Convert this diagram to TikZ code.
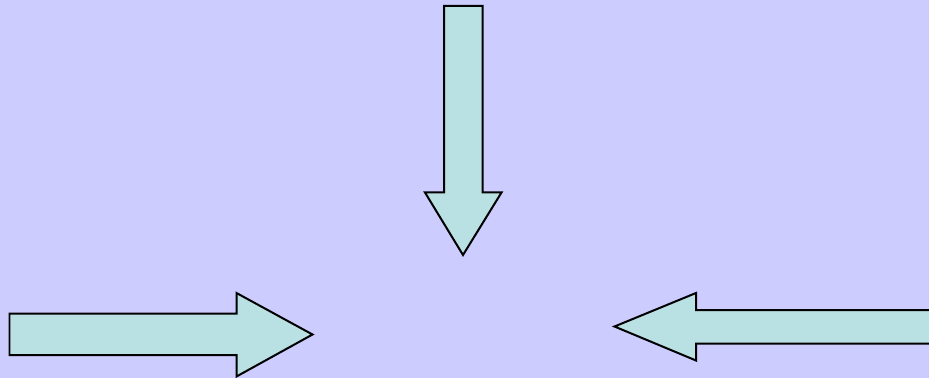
\documentclass[tikz,border=0pt]{standalone}
\usepackage{tikz}

\definecolor{bgviolet}{RGB}{204,204,255}
\definecolor{arrowcyan}{RGB}{185,224,227}

\begin{document}
\begin{tikzpicture}[
      x=0.02cm, y=-0.02cm,
      blockarrow/.style={draw=black, fill=arrowcyan, line width=0.04cm, line join=miter}
    ]
    \fill[bgviolet] (0,0) rectangle (929,378);
    \useasboundingbox (0,0) rectangle (929,378);

    % arrow from the top
    \draw[blockarrow] (444,6) -- (482.5,6) -- (482.5,192.5) -- (501.5,192.5)
      -- (463,255) -- (425,192.5) -- (444,192.5) -- cycle;
    % arrow from the left
    \draw[blockarrow] (9.5,313.5) -- (236.5,313.5) -- (236.5,293) -- (312.5,334.5)
      -- (236.5,376.5) -- (236.5,355) -- (9.5,355) -- cycle;
    % arrow from the right
    \begin{scope}
      \clip (0,0) rectangle (929,378);
      \draw[blockarrow] (940,310) -- (696,310) -- (696,293) -- (614.5,326.5)
        -- (696,360.5) -- (696,343.5) -- (940,343.5);
    \end{scope}
  \end{tikzpicture}
\end{document}
